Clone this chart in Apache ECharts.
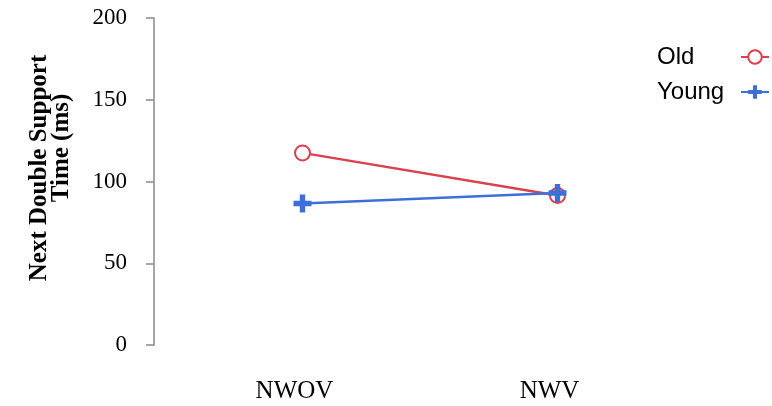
<!DOCTYPE html>
<html>
<head>
<meta charset="utf-8">
<script src="https://cdn.jsdelivr.net/npm/echarts@6/dist/echarts.min.js"></script>
<style>html,body{margin:0;padding:0;background:#fff;}#c{width:772px;height:406px;}</style>
</head>
<body>
<div id="c"></div>
<script>
const categories = ['NWOV', 'NWV'];
const oldValues = [117.5, 91.5];
const youngValues = [86.5, 93];
const yTicks = [0, 50, 100, 150, 200];
const yTitleLines = ['Next Double Support', 'Time (ms)'];

const RED = '#d8424f';
const BLUE = '#3d6fdb';
const plusPath = 'path://M7,0 H13 V7 H20 V13 H13 V20 H7 V13 H0 V7 H7 Z';

const chart = echarts.init(document.getElementById('c'), null, {renderer: 'canvas'});
chart.setOption({
  animation: false,
  backgroundColor: '#fff',
  grid: {left: 175, top: 18, width: 510, bottom: 61, containLabel: false, outerBoundsMode: 'none'},
  legend: {
    orient: 'vertical',
    right: 2,
    top: 45,
    padding: 0,
    align: 'right',
    itemWidth: 28,
    itemHeight: 17,
    itemGap: 11,
    formatter: '{a|{name}}',
    textStyle: {
      fontFamily: 'Liberation Sans', fontSize: 24, color: '#000',
      rich: {a: {fontFamily: 'Liberation Sans', fontSize: 24, color: '#000', width: 79, align: 'left'}}
    },
    data: ['Old', 'Young']
  },
  graphic: [
    {type: 'text', x: 40, y: 168, rotation: Math.PI / 2,
     style: {text: yTitleLines[0], fontFamily: 'Liberation Serif', fontSize: 25, fontWeight: 'bold', fill: '#000', align: 'center', verticalAlign: 'middle'}},
    {type: 'text', x: 62, y: 148, rotation: Math.PI / 2,
     style: {text: yTitleLines[1], fontFamily: 'Liberation Serif', fontSize: 25, fontWeight: 'bold', fill: '#000', align: 'center', verticalAlign: 'middle'}}
  ],
  xAxis: {
    type: 'category',
    data: categories,
    boundaryGap: true,
    axisLine: {show: false},
    axisTick: {show: false},
    splitLine: {show: false},
    axisLabel: {fontFamily: 'Liberation Serif', fontSize: 25, color: '#000', margin: 34, padding: [0, 16, 0, 0]}
  },
  yAxis: {
    type: 'value',
    min: yTicks[0],
    max: yTicks[yTicks.length - 1],
    interval: 50,
    offset: 21,
    axisLine: {show: true, lineStyle: {color: '#888', width: 1.5}},
    axisTick: {show: true, length: 8, lineStyle: {color: '#888', width: 1.5}},
    splitLine: {show: false},
    axisLabel: {fontFamily: 'Liberation Serif', fontSize: 23, color: '#000', margin: 27}
  },
  series: [
    {
      name: 'Old',
      type: 'line',
      data: oldValues,
      symbol: 'emptyCircle',
      symbolSize: 15,
      color: RED,
      lineStyle: {color: RED, width: 2.5},
      itemStyle: {color: RED, borderColor: RED, borderWidth: 2.5}
    },
    {
      name: 'Young',
      type: 'line',
      data: youngValues,
      symbol: plusPath,
      symbolSize: 18,
      color: BLUE,
      lineStyle: {color: BLUE, width: 2.5},
      itemStyle: {color: BLUE, borderWidth: 0}
    }
  ]
});
</script>
</body>
</html>
